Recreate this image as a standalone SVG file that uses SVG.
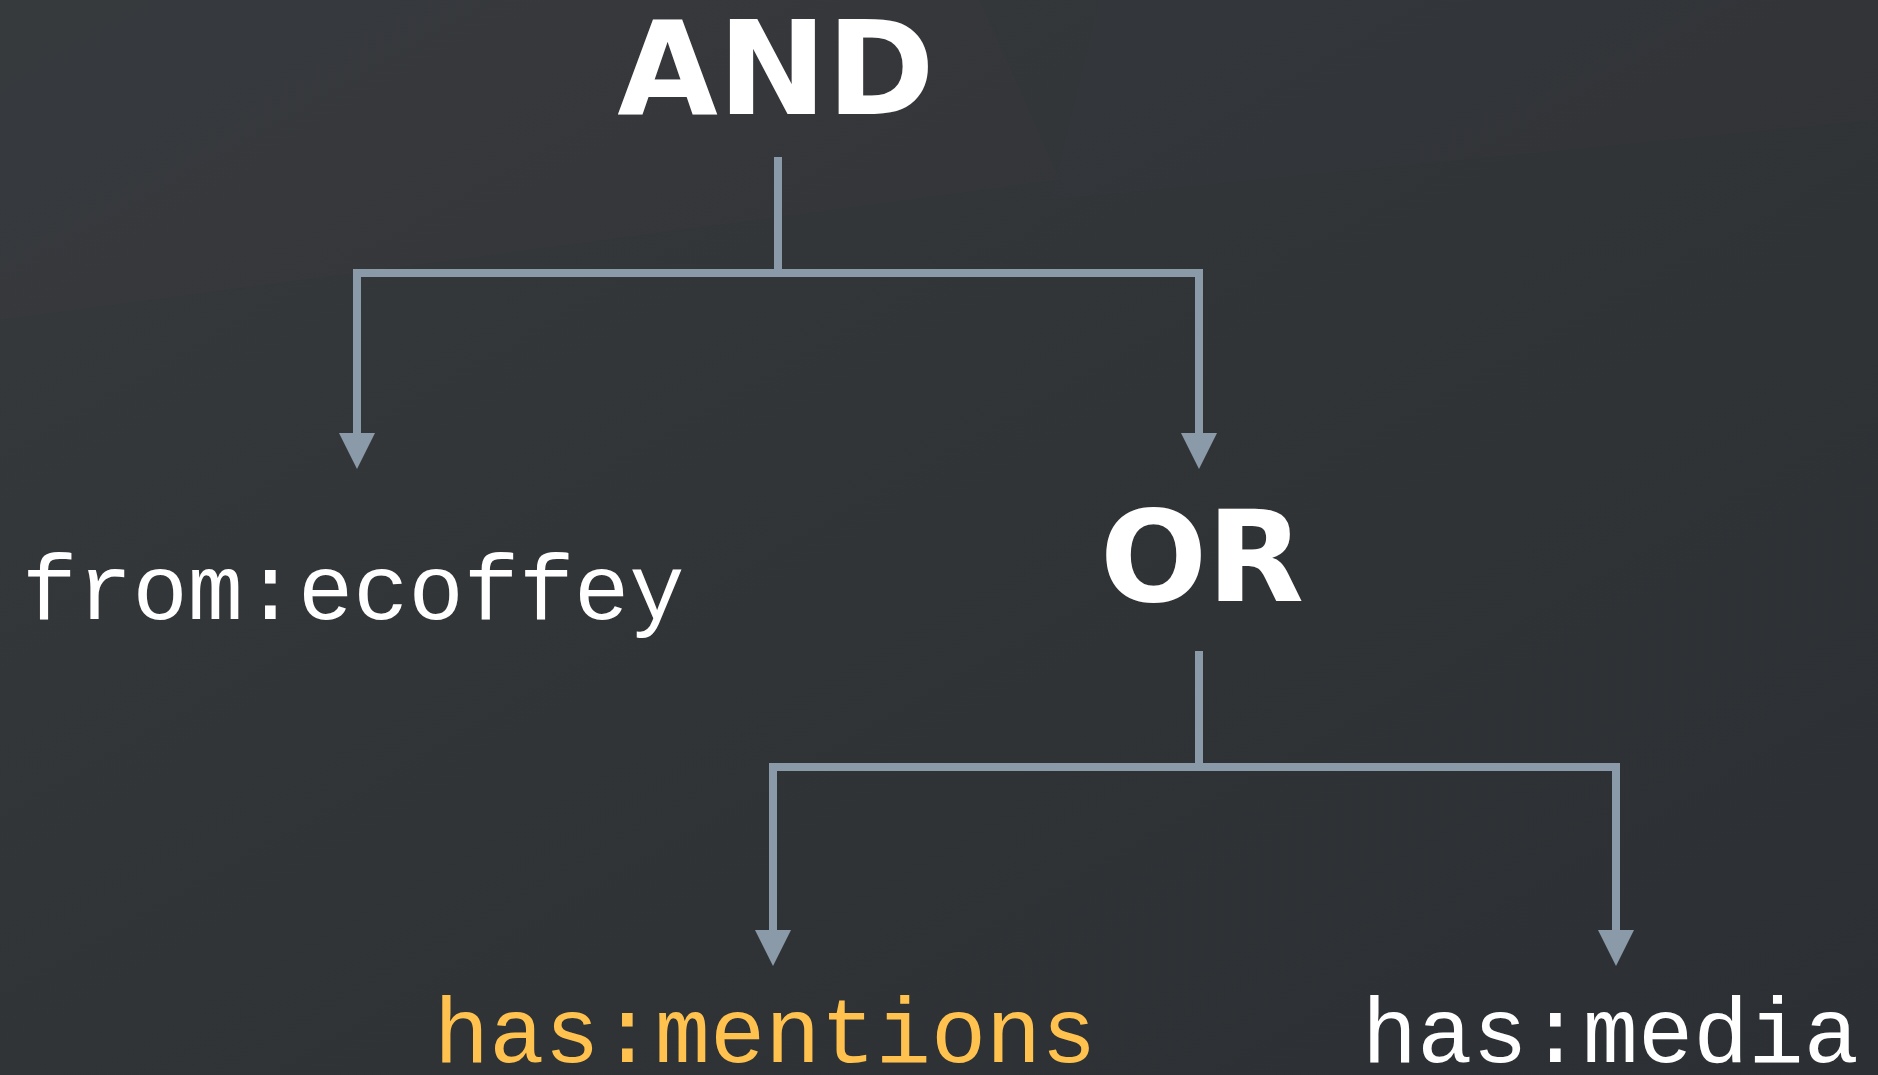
<svg xmlns="http://www.w3.org/2000/svg" width="1878" height="1075" viewBox="0 0 1878 1075">
  <defs>
    <linearGradient id="bg" x1="0" y1="0" x2="1" y2="1">
      <stop offset="0" stop-color="#373a3d"/>
      <stop offset="0.5" stop-color="#313437"/>
      <stop offset="1" stop-color="#2c2f33"/>
    </linearGradient>
    <marker id="arrow" viewBox="0 0 36 36" refX="0" refY="18" markerWidth="36" markerHeight="36" markerUnits="userSpaceOnUse" orient="auto">
      <path d="M0,0 L36,18 L0,36 z" fill="#8a9aa8"/>
    </marker>
    <style>
      .op { font-family: "DejaVu Sans", "Liberation Sans", sans-serif; font-weight: 700; fill: #ffffff; text-anchor: middle; }
      .term { font-family: "Liberation Mono", "Courier New", monospace; font-size: 92px; fill: #ffffff; }
      .hl { fill: #ffc24f; }
      .conn { fill: none; stroke: #8a9aa8; stroke-width: 8; stroke-linejoin: miter; stroke-linecap: butt; }
    </style>
  </defs>
  <rect width="1878" height="1075" fill="url(#bg)"/>
  <polygon points="0,0 980,0 1060,180 0,320" fill="#3b3e41" opacity="0.15"/>
  <polygon points="1100,0 1878,0 1878,120 1050,200" fill="#3a3d40" opacity="0.12"/>

  <g id="connectors">
    <path class="conn" d="M778,157 V273"/>
    <path class="conn" d="M778,273 H357 V433" marker-end="url(#arrow)"/>
    <path class="conn" d="M778,273 H1199 V433" marker-end="url(#arrow)"/>
    <path class="conn" d="M1199,651 V767"/>
    <path class="conn" d="M1199,767 H773 V930" marker-end="url(#arrow)"/>
    <path class="conn" d="M1199,767 H1616 V930" marker-end="url(#arrow)"/>
  </g>

  <g id="node-and">
    <text class="op" x="776" y="114" font-size="130">AND</text>
  </g>
  <g id="node-from">
    <text class="term" x="22" y="619">from:ecoffey</text>
  </g>
  <g id="node-or">
    <text class="op" x="1202" y="601" font-size="126">OR</text>
  </g>
  <g id="node-mentions">
    <text class="term hl" x="434" y="1062">has:mentions</text>
  </g>
  <g id="node-media">
    <text class="term" x="1362" y="1062">has:media</text>
  </g>
</svg>
